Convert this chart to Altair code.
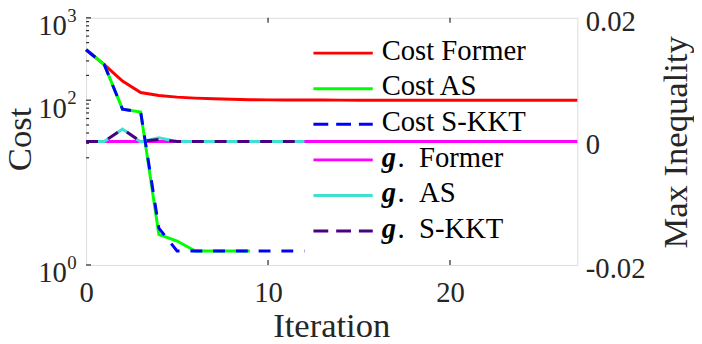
import altair as alt
import pandas as pd

# ---------------- data ----------------
iter_former = [0, 1, 2, 3, 4, 5, 6, 7, 8, 9, 10, 11, 12, 13, 14, 15, 16, 17, 18, 19, 20, 21, 22, 23, 24, 25, 26, 27]
cost_former = [410, 270, 171, 124, 114, 109, 106, 104, 102.5, 101.5, 101, 100.7, 100.5, 100.4, 100.3, 100.2,
               100.2, 100.1, 100.1, 100.1, 100.1, 100, 100, 100, 100, 100, 100, 100]
iter_as = [0, 1, 2, 3, 4, 5, 6, 7, 8, 9]
cost_as = [410, 270, 78, 72, 2.35, 1.95, 1.48, 1.48, 1.48, 1.48]
iter_skkt = [0, 1, 2, 3, 4, 5, 6, 7, 8, 9, 10, 11, 12]
cost_skkt = [410, 270, 78, 72, 2.8, 1.48, 1.48, 1.48, 1.48, 1.48, 1.48, 1.48, 1.48]

g_former = [0, 0, 0, 0, 0, 0, 0, 0, 0, 0, 0, 0, 0, 0, 0, 0, 0, 0, 0, 0, 0, 0, 0, 0, 0, 0, 0, 0]
g_as = [0, 0, 0.002, -0.0001, 0.0006, 0, 0, 0, 0, 0, 0, 0, 0]
g_skkt = [0, 0, 0.002, 0, 0.0003, 0, 0, 0, 0, 0, 0, 0, 0]

legend_idx = [0, 1, 2, 3, 4, 5]
legend_labels = ["Cost Former", "Cost AS", "Cost S-KKT", "Former", "AS", "S-KKT"]
legend_prefix = ["", "", "", "g", "g", "g"]
series_colors = ["#ff0000", "#00ff00", "#0000ff", "#ff00ff", "#40e0d0", "#4b0082"]
series_dashed = [False, False, True, False, False, True]

x_label_values = [0, 10, 20]
x_tick_values = [10, 20]
cost_major = [1, 100, 1000]
cost_exps = ["0", "2", "3"]
cost_minor = [20, 30, 40, 50, 60, 70, 80, 90, 200, 300, 400, 500, 600, 700, 800, 900]
g_label_values = [-0.02, 0, 0.02]

# ---------------- style ----------------
FONT = "Liberation Serif"
TXT = "#262626"
W, H = 497, 250
LW = 3
PLOT_DASH = [12, 11]
LEG_DASH = [15, 8]

xs = alt.Scale(domain=[0, 27], nice=False, zero=False)
ys_cost = alt.Scale(type="log", domain=[1, 1000], nice=False)
ys_g = alt.Scale(domain=[-0.02, 0.02], nice=False, zero=False)

common_axis = dict(grid=False, ticks=False, tickSize=0, domain=False, labelOverlap=False,
                   labelFont=FONT, labelColor=TXT, titleFont=FONT, titleFontSize=35,
                   titleFontWeight="normal", titleColor=TXT, titleBaseline="alphabetic",
                   titleAlign="center")

x_axis = alt.Axis(title="Iteration", values=x_label_values, format="d", labelFlush=False,
                  labelFontSize=29, labelPadding=37, labelBaseline="alphabetic",
                  titleX=248, titleY=72, **common_axis)
cost_axis = alt.Axis(title="Cost", orient="left", values=cost_major, labelExpr="'10'",
                     labelFontSize=29, labelPadding=20, labelAlign="right",
                     labelBaseline="alphabetic", labelOffset=17,
                     titleX=-56, titleY=122.5, titleAngle=270, **common_axis)
g_axis = alt.Axis(title="Max Inequality", orient="right", values=g_label_values,
                  labelExpr="replace(format(datum.value, '.2~f'), '\u2212', '-')",
                  labelFontSize=29, labelPadding=8, labelAlign="left",
                  labelBaseline="alphabetic", labelOffset=12.5,
                  titleX=110, titleY=125.5, titleAngle=270, **common_axis)


def series(xv, yv, color, dashed, yscale, yaxis):
    df = pd.DataFrame({"it": xv, "v": yv})
    kw = dict(color=color, strokeWidth=LW, strokeCap="butt")
    if dashed:
        kw["strokeDash"] = PLOT_DASH
    return alt.Chart(df).mark_line(**kw).encode(
        x=alt.X("it:Q", scale=xs, axis=x_axis),
        y=alt.Y("v:Q", scale=yscale, axis=yaxis),
    )


# ticks (inward, MATLAB style)
tick_major = alt.Chart(pd.DataFrame({"t": cost_major})).mark_rule(color=TXT, strokeWidth=1.2).encode(
    y=alt.Y("t:Q", scale=ys_cost, axis=cost_axis), x=alt.value(0), x2=alt.value(5))
tick_minor = alt.Chart(pd.DataFrame({"t": cost_minor})).mark_rule(color=TXT, strokeWidth=1.2).encode(
    y=alt.Y("t:Q", scale=ys_cost, axis=cost_axis), x=alt.value(0), x2=alt.value(3))
xt_df = pd.DataFrame({"t": x_tick_values})
tick_x_bottom = alt.Chart(xt_df).mark_rule(color=TXT, strokeWidth=1.2).encode(
    x=alt.X("t:Q", scale=xs, axis=x_axis), y=alt.value(H), y2=alt.value(H - 5))
tick_x_top = alt.Chart(xt_df).mark_rule(color=TXT, strokeWidth=1.2).encode(
    x=alt.X("t:Q", scale=xs, axis=x_axis), y=alt.value(0), y2=alt.value(5))

exps = alt.Chart(pd.DataFrame({"v": cost_major, "e": cost_exps})).mark_text(
    align="left", baseline="alphabetic", font=FONT, fontSize=19, color=TXT, dy=4
).encode(y=alt.Y("v:Q", scale=ys_cost, axis=cost_axis), x=alt.value(-19), text="e:N")

cost_layer = alt.layer(
    tick_major, tick_minor, tick_x_bottom, tick_x_top, exps,
    series(iter_former, cost_former, series_colors[0], series_dashed[0], ys_cost, cost_axis),
    series(iter_as, cost_as, series_colors[1], series_dashed[1], ys_cost, cost_axis),
    series(iter_skkt, cost_skkt, series_colors[2], series_dashed[2], ys_cost, cost_axis),
)

g_layer = alt.layer(
    series(iter_former, g_former, series_colors[3], series_dashed[3], ys_g, g_axis),
    series(iter_skkt, g_as, series_colors[4], series_dashed[4], ys_g, g_axis),
    series(iter_skkt, g_skkt, series_colors[5], series_dashed[5], ys_g, g_axis),
)

# ---------------- legend (drawn inside the plot) ----------------
leg_df = pd.DataFrame({"idx": legend_idx, "name": legend_labels, "prefix": legend_prefix,
                       "color": series_colors, "dashed": series_dashed})
leg_base = alt.Chart(leg_df).transform_calculate(
    ly="35.7 + 36 * datum.idx", ty="42.5 + 36 * datum.idx",
    rest="'.\u2002' + datum.name")

leg_solid = leg_base.transform_filter("!datum.dashed").mark_rule(strokeWidth=LW).encode(
    x=alt.value(230), x2=alt.value(290), y=alt.Y("ly:Q", scale=None),
    color=alt.Color("color:N", scale=None))
leg_dash = leg_base.transform_filter("datum.dashed").mark_rule(strokeWidth=LW, strokeDash=LEG_DASH).encode(
    x=alt.value(230), x2=alt.value(290), y=alt.Y("ly:Q", scale=None),
    color=alt.Color("color:N", scale=None))
txt_kw = dict(align="left", baseline="alphabetic", font=FONT, fontSize=29, color="#000000")
leg_cost_txt = leg_base.transform_filter("datum.prefix == ''").mark_text(**txt_kw).encode(
    x=alt.value(299), y=alt.Y("ty:Q", scale=None), text="name:N")
leg_g = leg_base.transform_filter("datum.prefix != ''").mark_text(
    fontStyle="italic", fontWeight="bold", **txt_kw).encode(
    x=alt.value(299), y=alt.Y("ty:Q", scale=None), text="prefix:N")
leg_g_rest = leg_base.transform_filter("datum.prefix != ''").mark_text(**txt_kw).encode(
    x=alt.value(315), y=alt.Y("ty:Q", scale=None), text="rest:N")

chart = alt.layer(
    g_layer, cost_layer, leg_solid, leg_dash, leg_cost_txt, leg_g, leg_g_rest
).resolve_scale(y="independent").properties(
    width=W, height=H,
    autosize=alt.AutoSizeParams(type="none"),
    padding={"left": 79, "top": 8, "right": 118, "bottom": 78},
).configure_view(stroke=TXT, strokeWidth=1.5).configure(background="white")

chart.save("out.html", embed_options={"renderer": "svg", "actions": False})
